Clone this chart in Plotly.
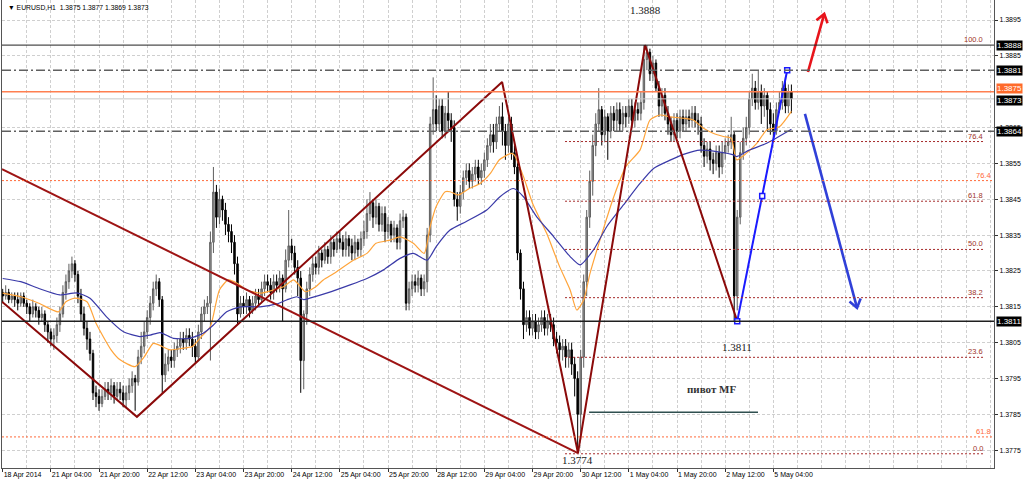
import plotly.graph_objects as go

# ---------------- DATA (prices in pips above 1.3700) ----------------
BASE = 1.37
bars = list(range(263))
opens = [
    119,118,119,117,118,117,116,118,116,115,113,115,114,112,113,110,
    108,106,107,110,113,119,122,125,127,124,118,113,109,106,102,91,
    90,88,90,92,91,93,90,92,91,89,91,93,95,94,101,104,
    108,112,116,120,122,117,96,99,101,100,103,104,106,105,107,106,
    104,101,108,113,115,116,133,147,140,145,142,138,136,133,127,113,
    116,115,117,114,116,118,117,120,122,121,119,122,121,123,120,128,
    132,130,126,123,100,113,120,124,127,126,130,128,131,129,133,131,
    134,133,131,134,132,130,133,131,134,136,141,144,140,143,138,141,
    136,138,135,137,133,139,140,116,120,122,121,123,120,122,135,166,
    170,166,171,164,169,167,165,145,143,147,151,153,150,152,154,151,
    153,156,160,163,161,166,168,164,160,166,158,154,130,120,110,112,
    109,111,108,110,112,109,111,110,106,105,103,104,101,103,99,95,
    85,101,122,140,150,160,166,170,163,168,164,169,167,170,166,169,
    168,171,167,170,169,172,184,186,180,183,176,171,174,169,166,163,
    167,164,168,166,168,167,169,167,166,160,157,159,156,155,158,154,
    158,160,161,163,118,140,158,162,165,173,176,172,175,171,174,170,
    166,164,170,172,176,171,175]
highs = [
    120,121,120,119,119,119,119,119,117,116,117,116,115,115,114,111,
    109,109,112,115,121,124,127,129,128,125,120,115,111,108,103,93,
    92,92,94,94,95,94,94,94,93,93,95,97,96,103,108,111,
    114,118,122,124,123,118,102,103,103,105,106,108,108,109,109,108,
    106,110,115,117,118,136,154,149,148,146,144,140,138,135,129,118,
    118,119,118,118,120,120,122,124,124,123,124,124,125,124,131,142,
    134,132,128,125,114,122,126,129,129,132,131,133,132,135,134,136,
    136,135,136,135,134,135,134,136,139,145,147,145,145,144,143,143,
    140,139,139,138,141,142,141,122,124,124,125,124,124,137,168,179,
    174,173,173,171,175,169,167,147,149,153,155,155,154,156,156,155,
    158,162,166,166,168,171,172,166,168,168,160,156,131,122,114,114,
    113,113,112,114,114,113,113,112,108,107,106,106,105,105,101,97,
    103,124,142,153,163,169,176,171,170,169,171,171,172,172,171,171,
    173,173,172,172,175,188,188,187,185,184,178,176,176,171,168,169,
    169,170,170,170,170,171,171,169,168,162,161,161,158,160,160,161,
    162,163,168,164,142,161,165,168,175,180,178,181,177,176,175,172,
    169,172,175,178,179,177,177]
lows = [
    116,117,116,116,115,114,115,115,113,111,112,112,110,111,108,105,
    104,103,105,108,112,117,120,123,122,116,111,107,103,100,89,87,
    86,87,89,89,89,88,89,89,87,87,89,91,86,93,99,102,
    106,110,114,118,115,91,94,97,98,98,101,102,103,103,104,101,
    99,100,106,111,113,100,130,137,138,139,135,133,130,124,110,112,
    113,113,112,113,114,115,116,118,119,117,117,119,119,111,119,126,
    128,124,118,91,92,110,118,122,124,124,126,127,127,127,129,130,
    131,129,129,129,128,128,129,129,132,134,139,137,138,136,136,133,
    134,133,133,131,131,137,114,114,118,119,119,118,118,119,133,163,
    164,164,162,162,164,161,143,139,141,145,149,148,148,150,149,149,
    151,154,158,158,159,164,160,156,158,156,152,128,117,106,108,107,
    107,106,106,108,107,107,108,104,102,100,100,98,98,96,90,75,
    78,98,118,137,146,157,164,160,161,156,162,164,164,164,164,165,
    166,165,165,167,167,170,181,178,178,175,168,168,167,163,161,161,
    162,162,164,164,165,165,165,163,158,154,155,153,152,153,151,152,
    156,158,159,111,114,138,156,160,163,171,170,170,166,168,164,163,
    161,163,169,170,169,169,169]
closes = [
    118,119,117,118,117,116,118,116,115,113,115,114,112,113,110,108,
    106,107,110,113,119,122,125,127,124,118,113,109,106,102,91,90,
    88,90,92,91,93,90,92,91,89,91,93,95,94,101,104,108,
    112,116,120,122,117,96,99,101,100,103,104,106,105,107,106,104,
    101,108,113,115,116,133,147,140,145,142,138,136,133,127,113,116,
    115,117,114,116,118,117,120,122,121,119,122,121,123,120,128,132,
    130,126,123,100,113,120,124,127,126,130,128,131,129,133,131,134,
    133,131,134,132,130,133,131,134,136,141,144,140,143,138,141,136,
    138,135,137,133,139,140,116,120,122,121,123,120,122,135,166,170,
    166,171,164,169,167,165,145,143,147,151,153,150,152,154,151,153,
    156,160,163,161,166,168,164,160,166,158,154,130,120,110,112,109,
    111,108,110,112,109,111,110,106,105,103,104,101,103,99,95,85,
    101,122,140,150,160,166,170,163,168,164,169,167,170,166,169,168,
    171,167,170,169,172,184,186,180,183,176,171,174,169,166,163,167,
    164,168,166,168,167,169,167,166,160,157,159,156,155,158,154,158,
    160,161,163,118,140,158,162,165,173,176,172,175,171,174,170,166,
    164,170,172,176,171,175,173]

# moving averages read at sample bars
ma_fast_bars = [0,6,12,18.5,21,24,28,31,36,39,44,47,50,52,55.6,59.5,63,66,69,72,75,78,81,85.5,90,93.3,96.6,98,
                100.5,104,106.5,110,116.5,121,124,128.7,132,136.4,140,142,144,147,148.6,151.4,155,158.6,162,165,
                169,170,173,176,180.7,185,188.5,190.7,193,195.1,198.4,203,207,211.7,215,218.4,221.7,226,229.4,
                232.8,236,239.4,242,243.8,247,250.5,253.8,258,262]
ma_fast_vals = [118.8,117.8,116,113.6,116.4,117.4,116.4,110.4,103,100.2,98.3,101,104.8,104.3,103,103.4,103.9,106.7,
                109.5,119.7,122.5,121.5,119.7,118.8,119.7,120.6,122.5,121.5,119.2,120.6,122.5,124.3,128,129.9,132.7,
                133.6,134.5,132.7,129.9,137.4,143,147.1,147.1,146.2,148,149.4,152.2,156,157.8,157.3,151.3,143.9,
                135.5,126.2,119.7,114.1,116.9,124.3,133.6,145.7,154.1,158.7,167.1,168.5,168,167.6,167.1,164.8,
                163.4,162.5,162,156,157.8,160.6,164.3,165.2,169.5]
ma_slow_bars = [0,6,12,19,24.6,29,34.5,40,45.6,49,52.3,56.7,62,66.6,70,74.4,79,85.5,91,94.3,97.7,100,102,107.6,115.4,
                121,126.5,132,136.4,141,144,148.6,154,160.8,165.2,169.6,173,177.4,183,188.5,191.8,196.2,200.7,206.2,
                211.7,216.2,221.7,227.2,231.6,237.2,243,243.7,248,253.8,262]
ma_slow_vals = [122.9,122,120.1,118.3,118.9,117.4,112.2,108.1,106.7,107.1,107.8,106.2,106.2,107.6,109.9,113.6,115,115,
                115.8,116.9,117.8,117,117.4,118.8,121.1,122.9,125.3,128.5,129.9,128,131.8,136.4,138.8,142,145.7,148,
                145.7,140.1,134.6,129,126.7,130.8,137.4,143.4,149.4,153.6,155.9,157.8,158.7,158.3,157.3,156.9,158.7,
                160.6,164.5]

# drawn objects (bar index, pips above 1.3700)
zig_long_bars = [-0.23, 191.1]
zig_long_vals = [153.4, 74.2]
zig_bars = [-0.23, 44.6, 165.9, 191.1, 213.4, 244]
zig_vals = [116.4, 84.3, 177.7, 74.2, 188, 111]
proj_bars = [244, 252.3, 260.6]
proj_vals = [111, 145.9, 181]
up_shaft_bars, up_shaft_vals = [267.5, 272.9], [180.5, 196.7]
up_head_bars, up_head_vals = [270.3, 272.9, 274.0], [194.9, 196.7, 194.1]
down_shaft_bars, down_shaft_vals = [266.5, 283.8], [168.8, 114.7]
down_head_bars, down_head_vals = [281.3, 283.8, 285.0], [116.5, 114.7, 117.3]
pivot_bars = [194.8, 250.9]
pivot_val = 85.6

fib_low, fib_high = 1.3774, 1.3888
fib_levels = [0.0, 23.6, 38.2, 50.0, 61.8, 76.4, 100.0]
fib_start, fib_end = 186.8, 326.3
fib2_labels = ["76.4", "61.8"]
fib2_prices = [1.38502, 1.37787]

tick_bars = [0,16,32,48,64,80,96,112,128,144,160,176,192,208,224,240,256]
tick_labels = ["18 Apr 2014","21 Apr 04:00","21 Apr 20:00","22 Apr 12:00","23 Apr 04:00","23 Apr 20:00",
               "24 Apr 12:00","25 Apr 04:00","25 Apr 20:00","28 Apr 12:00","29 Apr 04:00","29 Apr 20:00",
               "30 Apr 12:00","1 May 04:00","1 May 20:00","2 May 12:00","5 May 04:00"]
price_ticks = [1.3775,1.3785,1.3795,1.3805,1.3815,1.3825,1.3835,1.3845,1.3855,1.3865,1.3885,1.3895]
price_grid = [1.3775,1.3785,1.3795,1.3805,1.3815,1.3825,1.3835,1.3845,1.3855,1.3865,1.3875,1.3885,1.3895]
marked_prices = [1.3888, 1.3881, 1.3873, 1.3864, 1.3811]
ask_price = 1.3875
header = "▼ EURUSD,H1  1.3875 1.3877 1.3869 1.3873"


def P(v):
    return BASE + v / 10000.0


fig = go.Figure()

fig.add_trace(go.Candlestick(
    x=bars, open=[P(v) for v in opens], high=[P(v) for v in highs],
    low=[P(v) for v in lows], close=[P(v) for v in closes],
    increasing=dict(line=dict(color="#5e5e5e", width=1), fillcolor="#999999"),
    decreasing=dict(line=dict(color="#000000", width=1), fillcolor="#000000"),
    whiskerwidth=0, showlegend=False, hoverinfo="skip"))

fig.add_trace(go.Scatter(x=ma_fast_bars, y=[P(v) for v in ma_fast_vals], mode="lines",
                         line=dict(color="#ffa43a", width=1.2, shape="spline", smoothing=0.6),
                         showlegend=False, hoverinfo="skip"))
fig.add_trace(go.Scatter(x=ma_slow_bars, y=[P(v) for v in ma_slow_vals], mode="lines",
                         line=dict(color="#3a3aa8", width=1.2, shape="spline", smoothing=0.6),
                         showlegend=False, hoverinfo="skip"))

fig.add_trace(go.Scatter(x=zig_long_bars, y=[P(v) for v in zig_long_vals], mode="lines",
                         line=dict(color="#9e1414", width=2), showlegend=False, hoverinfo="skip"))
fig.add_trace(go.Scatter(x=zig_bars, y=[P(v) for v in zig_vals], mode="lines",
                         line=dict(color="#8b0a0a", width=2), showlegend=False, hoverinfo="skip"))
fig.add_trace(go.Scatter(x=proj_bars, y=[P(v) for v in proj_vals], mode="lines+markers",
                         line=dict(color="#1a1aff", width=2),
                         marker=dict(symbol="square", size=5, color="white", line=dict(color="#1a1aff", width=1.5)),
                         showlegend=False, hoverinfo="skip"))
fig.add_trace(go.Scatter(x=pivot_bars, y=[P(pivot_val)] * 2, mode="lines",
                         line=dict(color="#2f4f4f", width=1.5), showlegend=False, hoverinfo="skip"))

for bx, bv, col in ((up_shaft_bars, up_shaft_vals, "#e8141b"), (up_head_bars, up_head_vals, "#e8141b"),
                    (down_shaft_bars, down_shaft_vals, "#3040d8"), (down_head_bars, down_head_vals, "#3040d8")):
    fig.add_trace(go.Scatter(x=bx, y=[P(v) for v in bv], mode="lines",
                             line=dict(color=col, width=2.6), showlegend=False, hoverinfo="skip"))

shapes = []
shapes.append(dict(type="line", xref="paper", x0=0, x1=1, yref="y", y0=1.3888, y1=1.3888,
                   line=dict(color="#202020", width=1)))
for pr in (1.3881, 1.3864):
    shapes.append(dict(type="line", xref="paper", x0=0, x1=1, yref="y", y0=pr, y1=pr,
                       line=dict(color="#606060", width=1.5, dash="9px,3px,2px,3px")))
shapes.append(dict(type="line", xref="paper", x0=0, x1=1, yref="y", y0=ask_price, y1=ask_price,
                   line=dict(color="#ff7f50", width=1.5)))
shapes.append(dict(type="line", xref="paper", x0=0, x1=1, yref="y", y0=1.3873, y1=1.3873,
                   line=dict(color="#c8c8c8", width=1)))
shapes.append(dict(type="line", xref="paper", x0=0, x1=1, yref="y", y0=1.3811, y1=1.3811,
                   line=dict(color="#202020", width=1.5)))

annotations = []
for lv in fib_levels:
    pr = fib_low + lv / 100.0 * (fib_high - fib_low)
    if lv != 100.0:
        shapes.append(dict(type="line", xref="x", x0=fib_start, x1=fib_end, yref="y", y0=pr, y1=pr,
                           line=dict(color="#a52a2a", width=1, dash="2px,2px")))
    annotations.append(dict(x=fib_end, y=pr, xref="x", yref="y", text=f"{lv:.1f}", showarrow=False,
                            xanchor="right", yanchor="bottom", yshift=-1,
                            font=dict(size=7.5, color="#a0342a", family="Liberation Sans")))
for lab, pr in zip(fib2_labels, fib2_prices):
    shapes.append(dict(type="line", xref="paper", x0=0, x1=1, yref="y", y0=pr, y1=pr,
                       line=dict(color="#ff6a3a", width=1, dash="2px,2px")))
    annotations.append(dict(x=0.9985, y=pr, xref="paper", yref="y", text=lab, showarrow=False,
                            xanchor="right", yanchor="bottom", yshift=-1,
                            font=dict(size=7.5, color="#ff6a3a", family="Liberation Sans")))

serif = dict(family="Liberation Serif", size=11, color="#1a1a1a")
annotations += [
    dict(x=213.4, y=1.38978, xref="x", yref="y", text="1.3888", showarrow=False, font=serif),
    dict(x=244, y=1.38038, xref="x", yref="y", text="1.3811", showarrow=False, font=serif),
    dict(x=191.1, y=1.37723, xref="x", yref="y", text="1.3774", showarrow=False, font=serif),
    dict(x=235.6, y=1.37921, xref="x", yref="y", text="<b>пивот MF</b>", showarrow=False,
         font=dict(family="Liberation Serif", size=11, color="#333333")),
    dict(x=0, y=1, xref="paper", yref="paper", text=header, showarrow=False, xanchor="left",
         yanchor="top", xshift=4, yshift=-2, font=dict(family="Liberation Sans", size=6.8, color="#000")),
]

for pr in marked_prices:
    shift = -2 if pr == 1.3873 else 0
    annotations.append(dict(x=1, y=pr, xref="paper", yref="y", text=f"{pr:.4f}", showarrow=False,
                            xanchor="left", xshift=2, yshift=shift, bgcolor="#000000", borderpad=0,
                            font=dict(family="Liberation Sans", size=8, color="white")))
annotations.append(dict(x=1, y=ask_price, xref="paper", yref="y", text=f"{ask_price:.4f}", showarrow=False,
                        xanchor="left", xshift=2, yshift=3, bgcolor="#ff6a2a", borderpad=0,
                        font=dict(family="Liberation Sans", size=8, color="white")))

fig.update_layout(
    width=1024, height=482,
    margin=dict(l=2, r=30, t=0, b=14, autoexpand=False),
    paper_bgcolor="white", plot_bgcolor="white",
    shapes=shapes, annotations=annotations,
    showlegend=False,
    xaxis=dict(range=[-0.23, 329.3], rangeslider=dict(visible=False), automargin=False,
               tickvals=tick_bars, ticktext=tick_labels, ticklabelposition="outside right", tickangle=0,
               ticks="outside", ticklen=3, tickcolor="#333",
               tickfont=dict(family="Liberation Sans", size=7, color="#000"),
               showgrid=True, gridcolor="#cfcfcf", griddash="3px,2px", gridwidth=1,
               minor=dict(dtick=8, tick0=0, showgrid=True, gridcolor="#cfcfcf", griddash="3px,2px", ticks=""),
               showline=True, linecolor="#555", linewidth=1, mirror=True, zeroline=False),
    yaxis=dict(range=[1.377003, 1.390058], side="right", tickvals=price_ticks, tickformat=".4f",
               automargin=False, ticks="outside", ticklen=3, tickcolor="#333",
               tickfont=dict(family="Liberation Sans", size=7, color="#000"),
               showgrid=False,
               minor=dict(tickvals=price_grid, showgrid=True, gridcolor="#cfcfcf", griddash="3px,2px", ticks=""),
               showline=True, linecolor="#555", linewidth=1, mirror=True, zeroline=False),
)

fig.write_html("out.html", config={"displayModeBar": False},
               post_script="document.body.style.margin='0';document.body.style.overflow='hidden';")
